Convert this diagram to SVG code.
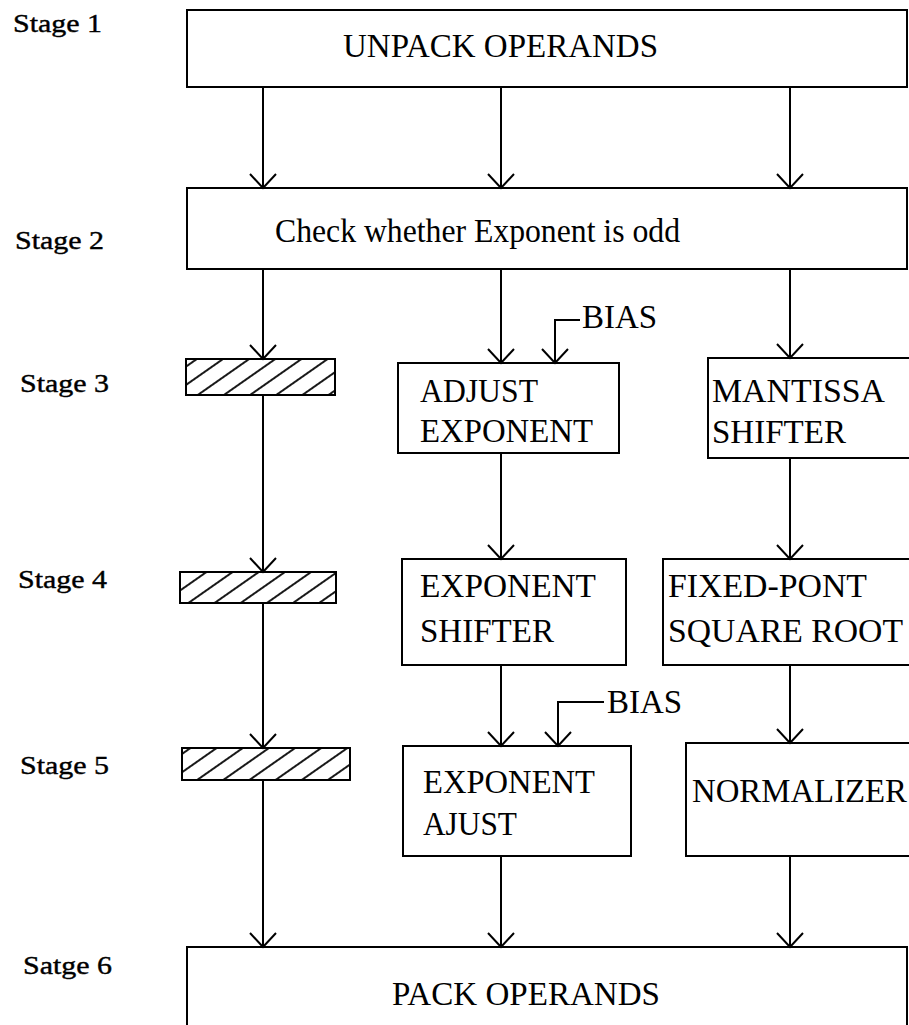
<svg xmlns="http://www.w3.org/2000/svg" width="909" height="1025" viewBox="0 0 909 1025">
<style>
.box{fill:#fff;stroke:#000;stroke-width:2}
.hatch{fill:url(#hp);stroke:#000;stroke-width:2}
.t{font-family:"Liberation Serif","Times New Roman",serif;font-size:33px;fill:#000}
.s{font-family:"Liberation Serif","Times New Roman",serif;font-size:26px;fill:#000;stroke:#000;stroke-width:0.4}
.c{fill:none;stroke:#000;stroke-width:2}
</style>
<defs>
<marker id="ah" viewBox="0 0 17 28" markerUnits="userSpaceOnUse" markerWidth="17" markerHeight="28" refX="15" refY="14" orient="auto">
<path d="M1,1 L15,14 L1,27" fill="none" stroke="#000" stroke-width="2"/>
</marker>
<pattern id="hp" patternUnits="userSpaceOnUse" width="15" height="15" patternTransform="rotate(55)">
<rect width="15" height="15" fill="#fff"/>
<line x1="2" y1="0" x2="2" y2="15" stroke="#000" stroke-width="1.8"/>
</pattern>
</defs>
<rect width="909" height="1025" fill="#fff"/>
<g id="labels">
<text class="s" x="13" y="32" textLength="89" lengthAdjust="spacingAndGlyphs">Stage 1</text>
<text class="s" x="15" y="249" textLength="89" lengthAdjust="spacingAndGlyphs">Stage 2</text>
<text class="s" x="20" y="392" textLength="89" lengthAdjust="spacingAndGlyphs">Stage 3</text>
<text class="s" x="18" y="588" textLength="89" lengthAdjust="spacingAndGlyphs">Stage 4</text>
<text class="s" x="20" y="774" textLength="89" lengthAdjust="spacingAndGlyphs">Stage 5</text>
<text class="s" x="23" y="974" textLength="89" lengthAdjust="spacingAndGlyphs">Satge 6</text>
</g>
<g id="unpack">
<rect class="box" x="187" y="10" width="720" height="77"/>
<text class="t" x="343" y="57" textLength="315" lengthAdjust="spacingAndGlyphs">UNPACK OPERANDS</text>
</g>
<g id="check">
<rect class="box" x="187" y="188" width="720" height="81"/>
<text class="t" x="275" y="242" font-size="31" textLength="405" lengthAdjust="spacingAndGlyphs">Check whether Exponent is odd</text>
</g>
<g id="latch3"><rect class="hatch" x="186" y="359" width="149" height="36"/></g>
<g id="latch4"><rect class="hatch" x="180" y="572" width="156" height="31"/></g>
<g id="latch5"><rect class="hatch" x="182" y="748" width="168" height="32"/></g>
<g id="adjust">
<rect class="box" x="398" y="363" width="221" height="90"/>
<text class="t" x="420" y="402" textLength="118" lengthAdjust="spacingAndGlyphs">ADJUST</text>
<text class="t" x="420" y="442" textLength="173" lengthAdjust="spacingAndGlyphs">EXPONENT</text>
</g>
<g id="mantissa">
<rect class="box" x="708" y="358" width="206" height="100"/>
<text class="t" x="712" y="402" textLength="173" lengthAdjust="spacingAndGlyphs">MANTISSA</text>
<text class="t" x="712" y="443" textLength="134" lengthAdjust="spacingAndGlyphs">SHIFTER</text>
</g>
<g id="expshifter">
<rect class="box" x="402" y="559" width="224" height="106"/>
<text class="t" x="420" y="597" textLength="176" lengthAdjust="spacingAndGlyphs">EXPONENT</text>
<text class="t" x="420" y="642" textLength="134" lengthAdjust="spacingAndGlyphs">SHIFTER</text>
</g>
<g id="sqrt">
<rect class="box" x="663" y="559" width="251" height="106"/>
<text class="t" x="668" y="597" textLength="199" lengthAdjust="spacingAndGlyphs">FIXED-PONT</text>
<text class="t" x="668" y="642" textLength="235" lengthAdjust="spacingAndGlyphs">SQUARE ROOT</text>
</g>
<g id="expadjust">
<rect class="box" x="403" y="746" width="228" height="110"/>
<text class="t" x="423" y="793" textLength="172" lengthAdjust="spacingAndGlyphs">EXPONENT</text>
<text class="t" x="423" y="835" textLength="94" lengthAdjust="spacingAndGlyphs">AJUST</text>
</g>
<g id="normalizer">
<rect class="box" x="686" y="743" width="228" height="113"/>
<text class="t" x="692" y="802" textLength="215" lengthAdjust="spacingAndGlyphs">NORMALIZER</text>
</g>
<g id="pack">
<rect class="box" x="187" y="947" width="720" height="90"/>
<text class="t" x="392" y="1005" textLength="268" lengthAdjust="spacingAndGlyphs">PACK OPERANDS</text>
</g>
<g id="bias">
<text class="t" x="582" y="328" font-size="32">BIAS</text>
<text class="t" x="607" y="713" font-size="32">BIAS</text>
</g>
<g id="connectors">
<line class="c" x1="263" y1="87" x2="263" y2="188" marker-end="url(#ah)"/>
<line class="c" x1="501" y1="87" x2="501" y2="188" marker-end="url(#ah)"/>
<line class="c" x1="790" y1="87" x2="790" y2="188" marker-end="url(#ah)"/>
<line class="c" x1="263" y1="269" x2="263" y2="359" marker-end="url(#ah)"/>
<line class="c" x1="263" y1="395" x2="263" y2="572" marker-end="url(#ah)"/>
<line class="c" x1="263" y1="603" x2="263" y2="748" marker-end="url(#ah)"/>
<line class="c" x1="263" y1="780" x2="263" y2="947" marker-end="url(#ah)"/>
<line class="c" x1="501" y1="269" x2="501" y2="363" marker-end="url(#ah)"/>
<line class="c" x1="501" y1="453" x2="501" y2="559" marker-end="url(#ah)"/>
<line class="c" x1="501" y1="665" x2="501" y2="746" marker-end="url(#ah)"/>
<line class="c" x1="501" y1="856" x2="501" y2="947" marker-end="url(#ah)"/>
<line class="c" x1="790" y1="269" x2="790" y2="358" marker-end="url(#ah)"/>
<line class="c" x1="790" y1="458" x2="790" y2="559" marker-end="url(#ah)"/>
<line class="c" x1="790" y1="665" x2="790" y2="743" marker-end="url(#ah)"/>
<line class="c" x1="790" y1="856" x2="790" y2="947" marker-end="url(#ah)"/>
<path class="c" d="M580,320 H555 V363" marker-end="url(#ah)"/>
<path class="c" d="M604,702 H558 V746" marker-end="url(#ah)"/>
</g>
</svg>
